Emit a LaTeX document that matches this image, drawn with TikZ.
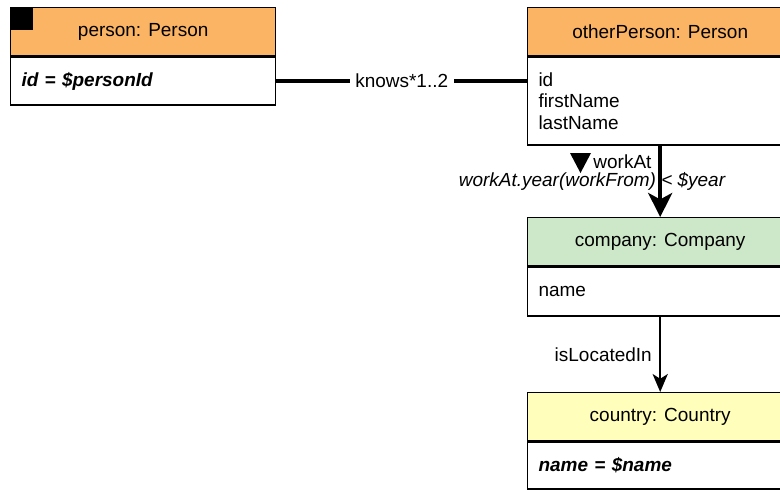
\documentclass[tikz,border=0pt]{standalone}
\usepackage{fontspec}
\setmainfont{Liberation Sans}
\usetikzlibrary{arrows.meta,positioning}
\definecolor{hdorange}{RGB}{251,179,100}
\definecolor{hdgreen}{RGB}{205,232,200}
\definecolor{hdyellow}{RGB}{255,255,187}

\begin{document}
\begin{tikzpicture}[font=\fontsize{13.5}{15.1}\selectfont,
  hd/.style={draw, line width=1pt, minimum width=6.625cm, minimum height=1.2cm,
             inner sep=0pt, anchor=north west},
  bd/.style={draw, line width=1pt, fill=white, minimum height=1.2cm,
             text width=6.085cm, inner xsep=0.27cm, align=left},
  assoc/.style={line width=2.8pt},
  lbl/.style={fill=white, inner xsep=4pt, inner ysep=1pt},
  cond/.style={font=\fontsize{13.5}{15.1}\selectfont\itshape, inner sep=0pt}]
\useasboundingbox (0,0) rectangle (19.5,-12.225);
\clip (0,0) rectangle (19.5,-12.225);

% the two persons, side by side
\node[hd, fill=hdorange] (person) at (0.25,-0.175) {person: Person};
\node[bd, below=0pt of person] (personBody) {\textbf{\textit{id = \$personId}}};
\fill (person.north west) rectangle ++(0.575,-0.575);

\node[hd, fill=hdorange] (other) at (13.175,-0.175) {otherPerson: Person};
\node[bd, below=0pt of other, minimum height=2.2cm] (otherBody) {id\\firstName\\lastName};

% company and country below the other person
\node[hd, fill=hdgreen] (company) at (13.175,-5.425) {company: Company};
\node[bd, below=0pt of company, minimum height=1.225cm] (companyBody) {name};

\node[hd, fill=hdyellow] (country) at (13.175,-9.8) {country: Country};
\node[bd, below=0pt of country, minimum height=1.175cm] (countryBody) {\textbf{\textit{name = \$name}}};

% edges
\draw[assoc] (personBody.east) -- node[lbl] (knowsLbl) {knows*1..2} (personBody.east -| otherBody.west);

\draw[assoc, -{Stealth[length=6mm, width=6mm, inset=1.6mm]}] (otherBody.south) -- (company.north);
\node[anchor=west, inner sep=0pt] (workLbl) at (14.83,-4.04) {workAt};
\fill (14.25,-3.825) -- (14.775,-3.825) -- (14.5125,-4.325) -- cycle;
\node[cond] (condLbl) at (14.8,-4.53) {workAt.year(workFrom) < \$year};

\draw[line width=1.3pt, -{Stealth[length=4.5mm, width=3.8mm, inset=1.2mm]}] (companyBody.south)
  -- node[left, xshift=-2pt] (locLbl) {isLocatedIn} (country.north);
\end{tikzpicture}
\end{document}
